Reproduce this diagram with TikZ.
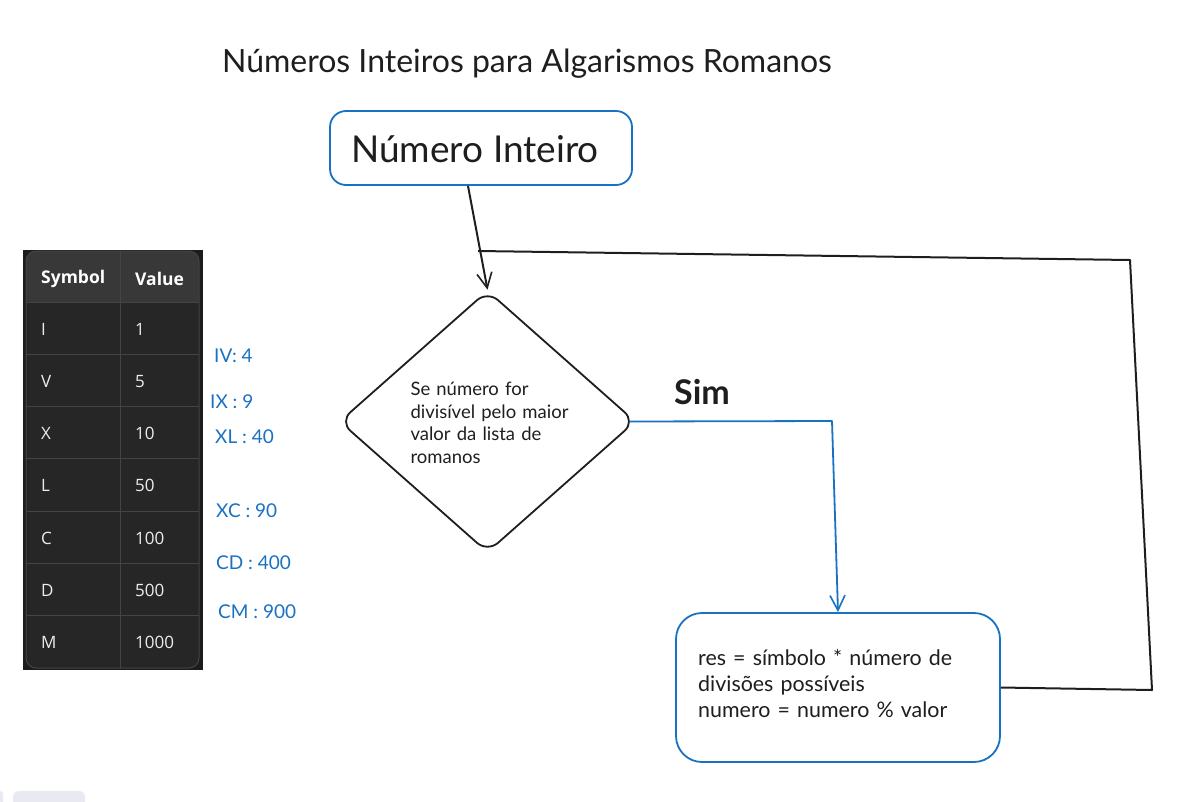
\documentclass[tikz,border=0pt]{standalone}
\usepackage{fontspec}
\setmainfont{Lato}
\newfontfamily\tablefont{Open Sans}
\usetikzlibrary{arrows.meta,shapes.geometric}
\definecolor{exblue}{HTML}{1971C2}
\definecolor{exink}{HTML}{1E1E1E}
\definecolor{tbgouter}{HTML}{1C1C1C}
\definecolor{tbgrow}{HTML}{262626}
\definecolor{tbghead}{HTML}{383838}
\definecolor{tbgrid}{HTML}{444444}
\definecolor{ttext}{HTML}{EDEDED}
\definecolor{uigray}{HTML}{E9E9F1}
\begin{document}
\begin{tikzpicture}[x=1pt,y=-1pt,
  bluebox/.style={draw=exblue,line width=1.8pt,rounded corners=16pt,fill=white},
  decision/.style={draw=exink,line width=1.8pt,diamond,rounded corners=14pt,inner sep=0pt},
  inkline/.style={draw=exink,line width=2pt},
  blueline/.style={draw=exblue,line width=1.8pt},
  barb/.style={-{Straight Barb[length=15pt,width=15pt,line width=1.6pt]}},
  hand/.style={font=\fontsize{#1}{#1}\selectfont,text=exink,inner sep=0pt},
  bluelbl/.style={font=\fontsize{19}{19}\selectfont,text=exblue,inner sep=0pt},
  cell/.style={font=\tablefont\fontsize{17}{17}\selectfont,text=ttext,anchor=west,inner sep=0pt},
  headcell/.style={font=\tablefont\bfseries\fontsize{17.5}{17.5}\selectfont,text=white,anchor=west,inner sep=0pt}
]
\useasboundingbox (0,0) rectangle (1188,801);
\begin{scope}
\clip (0,0) rectangle (1188,801);
\fill[uigray,rounded corners=6pt] (13,791) rectangle (85,815);
\fill[uigray,rounded corners=3pt] (-10,791) rectangle (3,815);
\end{scope}

% title
\node[hand=32] (title) at (527,64) {Números Inteiros para Algarismos Romanos};

% start box
\node[bluebox,minimum width=302pt,minimum height=74pt] (start) at (481,148) {};
\node[hand=37] (starttxt) at (475,149) {Número Inteiro};

% decision
\node[decision,minimum width=296pt,minimum height=262pt] (dia) at (487.5,421.5) {};
\node[align=left,text width=175pt,inner sep=0pt,text=exink,font=\fontsize{18.5}{22.5}\selectfont] (diatxt) at (498,423)
  {Se número for\\divisível pelo maior\\valor da lista de\\romanos};

% process box
\node[bluebox,rounded corners=26pt,minimum width=324pt,minimum height=149pt] (proc) at (838,687.5) {};
\node[align=left,text width=290pt,inner sep=0pt,text=exink,font=\fontsize{21.4}{26}\selectfont,anchor=west] (proctxt) at (698,684)
  {res = símbolo * número de\\divisões possíveis\\numero = numero \% valor};

% label Sim
\node[font=\bfseries\fontsize{34}{34}\selectfont,text=exink,inner sep=0pt] (sim) at (702,392) {Sim};

% connectors
\draw[inkline,barb] ([xshift=-13pt]start.south) -- (dia.north);
\coordinate (c1) at (1152,690);
\coordinate (c2) at (1130,260);
\coordinate (c3) at (478,251);
\draw[inkline,line join=round] (proc.east) -- (c1) -- (c2) -- (c3);
\coordinate (b1) at (832,421);
\draw[blueline,barb,line join=round] ([xshift=-7pt]dia.east) -- (b1) -- (proc.north);

% table
\fill[tbgouter] (23,250) rectangle (203,670);
\begin{scope}
\clip[rounded corners=10pt] (26,251) rectangle (199,668);
\fill[tbgrow] (26,251) rectangle (199,668);
\fill[tbghead] (26,251) rectangle (199,302);
\foreach \i in {0,...,6}{
  \draw[tbgrid,line width=1pt] (26,{302+52.3*\i}) -- (199,{302+52.3*\i});
}
\draw[tbgrid,line width=1pt] (120,251) -- (120,668);
\end{scope}
\draw[tbgrid,line width=1pt,rounded corners=10pt] (26,251) rectangle (199,668);
\node[headcell] (hsym) at (41,278.5) {Symbol};
\node[headcell] (hval) at (135,278.5) {Value};
\foreach \s/\v [count=\k from 0] in {I/1,V/5,X/10,L/50,C/100,D/500,M/1000}{
  \node[cell] (s\k) at (41,{329+52.3*\k}) {\s};
  \node[cell] (v\k) at (135,{329+52.3*\k}) {\v};
}

% blue notes
\node[bluelbl,anchor=west] (n1) at (214,356) {IV: 4};
\node[bluelbl,anchor=west] (n2) at (210,402) {IX : 9};
\node[bluelbl,anchor=west] (n3) at (215,437) {XL : 40};
\node[bluelbl,anchor=west] (n4) at (216,511) {XC : 90};
\node[bluelbl,anchor=west] (n5) at (216,563) {CD : 400};
\node[bluelbl,anchor=west] (n6) at (218,612) {CM : 900};
\end{tikzpicture}
\end{document}
